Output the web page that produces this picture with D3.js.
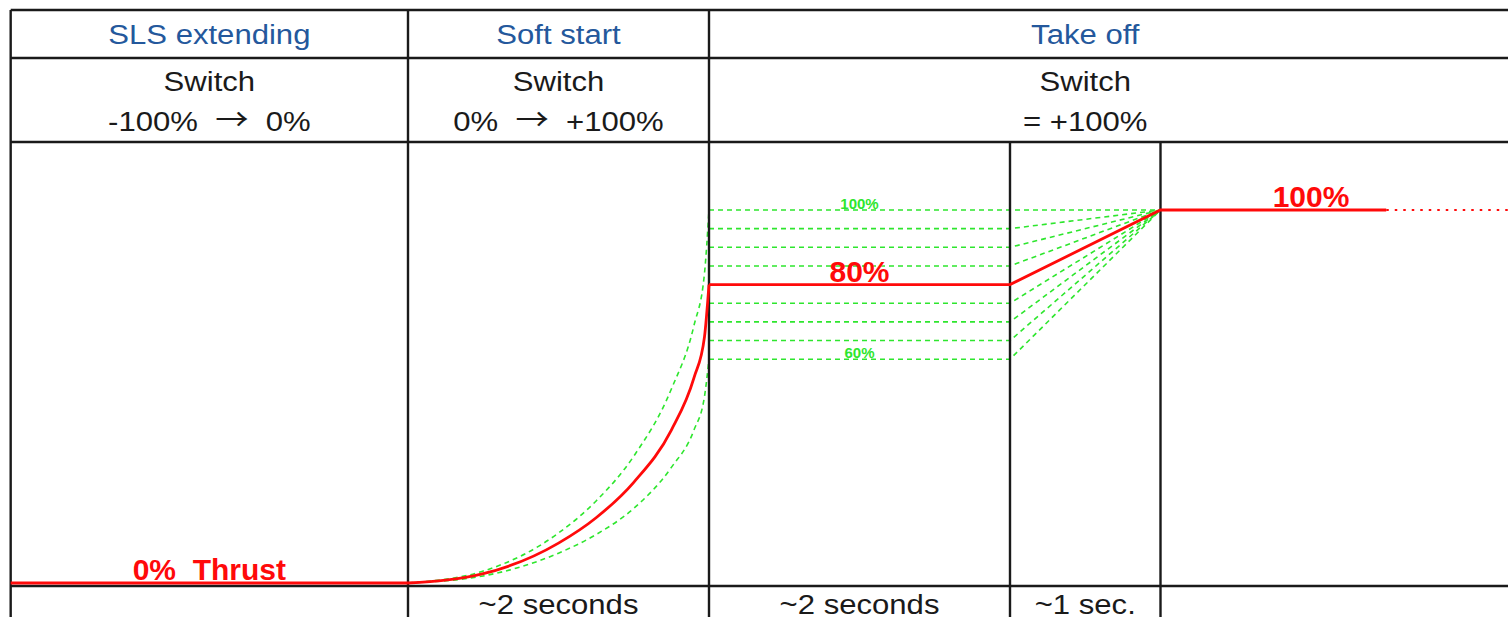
<!DOCTYPE html>
<html>
<head>
<meta charset="utf-8">
<script src="https://cdn.jsdelivr.net/npm/d3@7"></script>
<style>
  body { margin: 0; background: #fff; }
  text { font-family: "Liberation Sans", Arial, sans-serif; white-space: pre; }
</style>
</head>
<body>
<div id="chart"></div>
<script>
// phases of the table (time in seconds, 0 = start of soft start)
const phaseNames = ["SLS extending", "Soft start", "Take off"];
const phaseBounds = [-2.64, 0, 2, 7];
const switchLine1 = ["Switch", "Switch", "Switch"];
const switchFrom = ["-100%", "0%", ""];
const switchTo = ["0%", "+100%", "= +100%"];

// bottom row durations
const stepBounds = [-2.64, 0, 2, 4, 5, 7.4];
const stepLabels = ["", "~2 seconds", "~2 seconds", "~1 sec.", ""];

// soft start curves (thrust %)
const curveT = [0, 0.5, 1, 1.25, 1.5, 1.75, 1.9, 1.97, 2];
const softRed = [0, 2.5, 10.7, 17.5, 27, 41, 55, 66, 80];
const softHigh = [0, 3.2, 13.4, 22, 34, 52, 69, 83, 100];
const softLow = [0, 1.9, 8, 13, 20, 31, 41, 50, 60];

// hold levels for the alternative settings (green)
const holdLevels = [100, 95, 90, 85, 75, 70, 65, 60];
const holdStart = 2, holdEnd = 4, rampEnd = 5;

// main thrust path pieces (t, thrust)
const redIdle = [[-2.64, 0], [0, 0]];
const redHold = [[2, 80], [4, 80], [5, 100], [6.5, 100]];
const redAfter = [[6.5, 100], [7.4, 100]];

const width = 1508, height = 617;
const red = "#ff0a0a", green = "#2ee62e", ink = "#1a1a1a", blue = "#24589c";
const stretch = 1.11; // table text is a bit wide in the original

const x = d3.scaleLinear().domain([0, 2]).range([408, 709]);
const y = d3.scaleLinear().domain([0, 100]).range([583, 210]);

const rowTop = 10, row1 = 58, row2 = 142, rowBottom = 586;

const svg = d3.select("#chart").append("svg")
  .attr("width", width)
  .attr("height", height);

const line = d3.line().x(d => x(d[0])).y(d => y(d[1]));
const smooth = d3.line().x(d => x(d[0])).y(d => y(d[1])).curve(d3.curveMonotoneX);

// green alternatives
const g = svg.append("g")
  .attr("fill", "none")
  .attr("stroke", green)
  .attr("stroke-width", 1.6)
  .attr("stroke-dasharray", "5,4");

g.selectAll("path.hold")
  .data(holdLevels)
  .enter().append("path")
  .attr("class", "hold")
  .attr("d", v => line([[holdStart, v], [holdEnd, v], [rampEnd, 100]]));

[softHigh, softLow].forEach(arr => {
  g.append("path").attr("d", smooth(curveT.map((t, i) => [t, arr[i]])));
});

g.selectAll("text")
  .data([100, 60])
  .enter().append("text")
  .attr("x", x((holdStart + holdEnd) / 2))
  .attr("y", v => y(v) - 1)
  .attr("text-anchor", "middle")
  .attr("fill", green)
  .attr("stroke", "none")
  .attr("font-size", 15)
  .attr("font-weight", "bold")
  .text(v => v + "%");

// table grid
const grid = svg.append("g").attr("stroke", ink).attr("stroke-width", 2.4);
[rowTop, row1, row2, rowBottom].forEach(yy => {
  grid.append("line").attr("x1", x(phaseBounds[0])).attr("x2", width).attr("y1", yy).attr("y2", yy);
});
phaseBounds.slice(0, 3).forEach(t => {
  grid.append("line").attr("x1", x(t)).attr("x2", x(t)).attr("y1", rowTop).attr("y2", height);
});
[holdEnd, rampEnd].forEach(t => {
  grid.append("line").attr("x1", x(t)).attr("x2", x(t)).attr("y1", row2).attr("y2", height);
});

// red thrust line
const r = svg.append("g").attr("fill", "none").attr("stroke", red).attr("stroke-width", 2.8);
r.append("path").attr("d", line(redIdle));
r.append("path").attr("d", smooth(curveT.map((t, i) => [t, softRed[i]])));
r.append("path").attr("d", line(redHold));
r.append("path").attr("d", line(redAfter)).attr("stroke-width", 2).attr("stroke-dasharray", "2.5,6");

const redLabels = [
  { t: (phaseBounds[0] + phaseBounds[1]) / 2, v: 0, text: "0%  Thrust" },
  { t: (holdStart + holdEnd) / 2, v: 80, text: "80%" },
  { t: 6, v: 100, text: "100%" }
];
svg.selectAll("text.red")
  .data(redLabels)
  .enter().append("text")
  .attr("class", "red")
  .attr("x", d => x(d.t))
  .attr("y", d => y(d.v) - 3)
  .attr("text-anchor", "middle")
  .attr("fill", red)
  .attr("font-size", 30)
  .attr("font-weight", "bold")
  .text(d => d.text);

// header texts
const mid = i => x((phaseBounds[i] + phaseBounds[i + 1]) / 2);
const place = (cx, cy) => `translate(${cx},${cy}) scale(${stretch},1)`;

svg.selectAll("text.phase")
  .data(phaseNames)
  .enter().append("text")
  .attr("transform", (d, i) => place(mid(i), 44))
  .attr("text-anchor", "middle")
  .attr("fill", blue)
  .attr("font-size", 28)
  .text(d => d);

svg.selectAll("text.sw1")
  .data(switchLine1)
  .enter().append("text")
  .attr("transform", (d, i) => place(mid(i), 91))
  .attr("text-anchor", "middle")
  .attr("fill", ink)
  .attr("font-size", 28)
  .text(d => d);

const sw2 = svg.selectAll("text.sw2")
  .data(switchTo)
  .enter().append("text")
  .attr("transform", (d, i) => place(mid(i), 131))
  .attr("text-anchor", "middle")
  .attr("fill", ink)
  .attr("font-size", 28);

sw2.each(function (d, i) {
  const t = d3.select(this);
  if (switchFrom[i]) {
    t.append("tspan").text(switchFrom[i] + "  ");
    t.append("tspan").attr("font-family", "Noto Sans CJK JP").attr("font-size", 30)
      .attr("dy", -1).text("\u2192");
    t.append("tspan").attr("dy", 1).text("  " + d);
  } else {
    t.text(d);
  }
});

// bottom durations
svg.selectAll("text.step")
  .data(stepLabels)
  .enter().append("text")
  .attr("transform", (d, i) => place(x((stepBounds[i] + stepBounds[i + 1]) / 2), 614))
  .attr("text-anchor", "middle")
  .attr("fill", ink)
  .attr("font-size", 28)
  .text(d => d);
</script>
</body>
</html>
